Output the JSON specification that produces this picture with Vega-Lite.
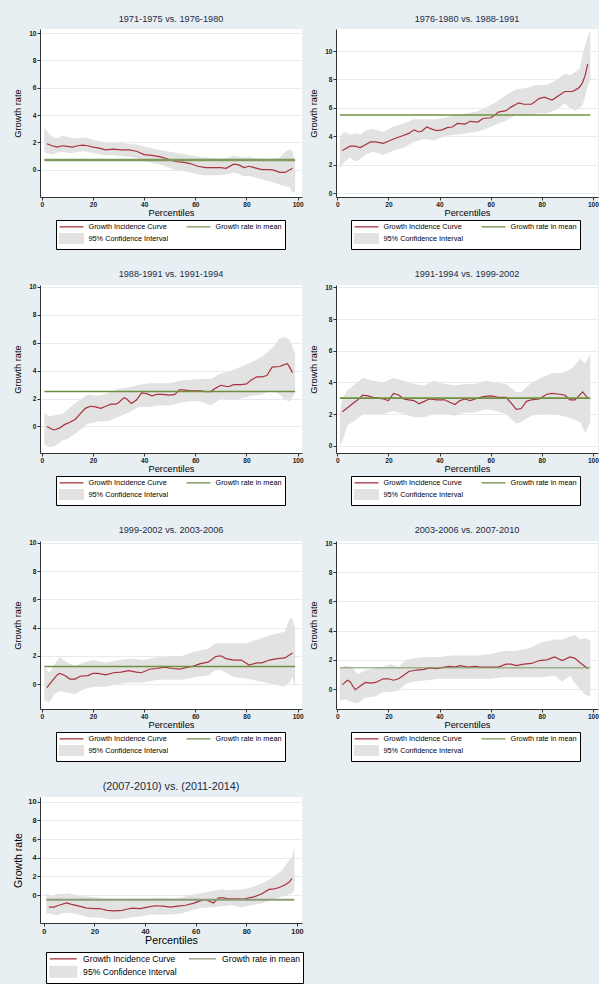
{
  "$schema": "https://vega.github.io/schema/vega-lite/v6.json",
  "background": "#e8eff2",
  "padding": {"left": 13, "top": 14, "right": 0, "bottom": 0},
  "config": {
    "font": "Liberation Sans",
    "view": {"fill": "#ffffff", "stroke": null},
    "title": {"fontSize": 9.2, "fontWeight": "normal", "color": "#1e2a44", "offset": 5, "anchor": "middle"},
    "axis": {"labelFontSize": 6.6, "labelFontWeight": "bold", "labelColor": "#222", "labelOverlap": false, "titleFontSize": 9.3, "titleFontWeight": "normal", "titleColor": "#000", "domainColor": "#333", "tickColor": "#333", "tickSize": 3, "labelPadding": 1, "gridColor": "#e4ecf0", "gridWidth": 1, "tickCount": 12},
    "axisX": {"grid": false, "titlePadding": 1},
    "axisY": {"grid": true, "titlePadding": 6, "labelAngle": 0},
    "legend": {"orient": "none", "direction": "horizontal", "columns": 2, "labelFontSize": 7.3, "labelColor": "#000", "labelLimit": 200, "padding": 2.5, "strokeColor": "#000", "fillColor": "#ffffff", "rowPadding": 0, "labelOffset": 22, "columnPadding": 15, "symbolSize": 36, "symbolStrokeWidth": 1.3}
  },
  "datasets": {
    "gic": [
      {"p":1,"x":2,"g":1.9},{"p":1,"x":4,"g":1.75},{"p":1,"x":6,"g":1.65},{"p":1,"x":8,"g":1.75},{"p":1,"x":10,"g":1.7},{"p":1,"x":12,"g":1.65},{"p":1,"x":14,"g":1.75},{"p":1,"x":16,"g":1.8},{"p":1,"x":18,"g":1.75},{"p":1,"x":20,"g":1.65},{"p":1,"x":22,"g":1.6},{"p":1,"x":25,"g":1.45},{"p":1,"x":28,"g":1.5},{"p":1,"x":31,"g":1.45},{"p":1,"x":34,"g":1.45},{"p":1,"x":37,"g":1.35},{"p":1,"x":40,"g":1.1},{"p":1,"x":43,"g":1.05},{"p":1,"x":46,"g":0.95},{"p":1,"x":49,"g":0.8},{"p":1,"x":52,"g":0.6},{"p":1,"x":55,"g":0.55},{"p":1,"x":58,"g":0.45},{"p":1,"x":61,"g":0.25},{"p":1,"x":64,"g":0.15},{"p":1,"x":67,"g":0.15},{"p":1,"x":70,"g":0.15},{"p":1,"x":72,"g":0.1},{"p":1,"x":75,"g":0.4},{"p":1,"x":77,"g":0.35},{"p":1,"x":79,"g":0.15},{"p":1,"x":81,"g":0.25},{"p":1,"x":83,"g":0.15},{"p":1,"x":86,"g":0.0},{"p":1,"x":89,"g":0.0},{"p":1,"x":91,"g":-0.05},{"p":1,"x":93,"g":-0.2},{"p":1,"x":95,"g":-0.2},{"p":1,"x":97,"g":0.0},{"p":1,"x":98,"g":0.1},
      {"p":2,"x":2,"g":3.0},{"p":2,"x":3,"g":3.1},{"p":2,"x":5,"g":3.3},{"p":2,"x":7,"g":3.3},{"p":2,"x":9,"g":3.2},{"p":2,"x":11,"g":3.4},{"p":2,"x":13,"g":3.6},{"p":2,"x":15,"g":3.6},{"p":2,"x":18,"g":3.5},{"p":2,"x":20,"g":3.65},{"p":2,"x":22,"g":3.8},{"p":2,"x":25,"g":4.0},{"p":2,"x":28,"g":4.2},{"p":2,"x":30,"g":4.45},{"p":2,"x":32,"g":4.3},{"p":2,"x":33,"g":4.35},{"p":2,"x":35,"g":4.65},{"p":2,"x":37,"g":4.5},{"p":2,"x":39,"g":4.4},{"p":2,"x":41,"g":4.45},{"p":2,"x":43,"g":4.6},{"p":2,"x":45,"g":4.65},{"p":2,"x":47,"g":4.9},{"p":2,"x":50,"g":4.85},{"p":2,"x":52,"g":5.05},{"p":2,"x":55,"g":5.0},{"p":2,"x":57,"g":5.25},{"p":2,"x":60,"g":5.3},{"p":2,"x":61,"g":5.4},{"p":2,"x":63,"g":5.7},{"p":2,"x":66,"g":5.8},{"p":2,"x":68,"g":6.05},{"p":2,"x":71,"g":6.35},{"p":2,"x":73,"g":6.25},{"p":2,"x":76,"g":6.25},{"p":2,"x":79,"g":6.65},{"p":2,"x":81,"g":6.75},{"p":2,"x":84,"g":6.55},{"p":2,"x":87,"g":6.9},{"p":2,"x":89,"g":7.15},{"p":2,"x":92,"g":7.15},{"p":2,"x":94,"g":7.35},{"p":2,"x":95,"g":7.5},{"p":2,"x":96,"g":7.8},{"p":2,"x":97,"g":8.3},{"p":2,"x":98,"g":9.1},
      {"p":3,"x":2,"g":0.0},{"p":3,"x":4,"g":-0.2},{"p":3,"x":5,"g":-0.25},{"p":3,"x":7,"g":-0.1},{"p":3,"x":9,"g":0.15},{"p":3,"x":11,"g":0.3},{"p":3,"x":13,"g":0.5},{"p":3,"x":15,"g":0.9},{"p":3,"x":17,"g":1.3},{"p":3,"x":19,"g":1.45},{"p":3,"x":21,"g":1.4},{"p":3,"x":23,"g":1.3},{"p":3,"x":25,"g":1.45},{"p":3,"x":27,"g":1.6},{"p":3,"x":29,"g":1.6},{"p":3,"x":30,"g":1.7},{"p":3,"x":32,"g":2.05},{"p":3,"x":33,"g":2.0},{"p":3,"x":35,"g":1.65},{"p":3,"x":37,"g":1.9},{"p":3,"x":39,"g":2.4},{"p":3,"x":41,"g":2.35},{"p":3,"x":43,"g":2.2},{"p":3,"x":45,"g":2.3},{"p":3,"x":47,"g":2.3},{"p":3,"x":50,"g":2.25},{"p":3,"x":52,"g":2.3},{"p":3,"x":54,"g":2.65},{"p":3,"x":56,"g":2.6},{"p":3,"x":58,"g":2.55},{"p":3,"x":62,"g":2.55},{"p":3,"x":64,"g":2.5},{"p":3,"x":66,"g":2.5},{"p":3,"x":68,"g":2.75},{"p":3,"x":70,"g":2.95},{"p":3,"x":73,"g":2.85},{"p":3,"x":75,"g":3.0},{"p":3,"x":78,"g":3.0},{"p":3,"x":80,"g":3.05},{"p":3,"x":82,"g":3.35},{"p":3,"x":84,"g":3.55},{"p":3,"x":86,"g":3.55},{"p":3,"x":88,"g":3.65},{"p":3,"x":90,"g":4.25},{"p":3,"x":93,"g":4.3},{"p":3,"x":95,"g":4.45},{"p":3,"x":96,"g":4.5},{"p":3,"x":97,"g":4.2},{"p":3,"x":98,"g":3.85},
      {"p":4,"x":2,"g":2.15},{"p":4,"x":4,"g":2.4},{"p":4,"x":6,"g":2.65},{"p":4,"x":8,"g":2.9},{"p":4,"x":10,"g":3.2},{"p":4,"x":12,"g":3.15},{"p":4,"x":14,"g":3.05},{"p":4,"x":16,"g":3.0},{"p":4,"x":18,"g":2.95},{"p":4,"x":20,"g":2.85},{"p":4,"x":22,"g":3.3},{"p":4,"x":24,"g":3.2},{"p":4,"x":26,"g":2.95},{"p":4,"x":28,"g":2.9},{"p":4,"x":30,"g":2.85},{"p":4,"x":32,"g":2.65},{"p":4,"x":34,"g":2.8},{"p":4,"x":36,"g":2.95},{"p":4,"x":39,"g":2.9},{"p":4,"x":42,"g":2.9},{"p":4,"x":44,"g":2.75},{"p":4,"x":46,"g":2.6},{"p":4,"x":48,"g":2.85},{"p":4,"x":50,"g":2.95},{"p":4,"x":52,"g":2.85},{"p":4,"x":54,"g":2.95},{"p":4,"x":57,"g":3.1},{"p":4,"x":60,"g":3.15},{"p":4,"x":63,"g":3.05},{"p":4,"x":66,"g":3.05},{"p":4,"x":68,"g":2.7},{"p":4,"x":70,"g":2.3},{"p":4,"x":72,"g":2.35},{"p":4,"x":74,"g":2.8},{"p":4,"x":76,"g":2.9},{"p":4,"x":79,"g":2.95},{"p":4,"x":82,"g":3.25},{"p":4,"x":84,"g":3.3},{"p":4,"x":87,"g":3.25},{"p":4,"x":89,"g":3.2},{"p":4,"x":91,"g":2.9},{"p":4,"x":93,"g":2.9},{"p":4,"x":96,"g":3.4},{"p":4,"x":98,"g":3.0},
      {"p":5,"x":2,"g":-0.25},{"p":5,"x":4,"g":0.2},{"p":5,"x":6,"g":0.65},{"p":5,"x":7,"g":0.75},{"p":5,"x":9,"g":0.6},{"p":5,"x":11,"g":0.35},{"p":5,"x":13,"g":0.35},{"p":5,"x":15,"g":0.55},{"p":5,"x":18,"g":0.6},{"p":5,"x":20,"g":0.75},{"p":5,"x":22,"g":0.75},{"p":5,"x":25,"g":0.65},{"p":5,"x":28,"g":0.8},{"p":5,"x":31,"g":0.85},{"p":5,"x":34,"g":0.95},{"p":5,"x":37,"g":0.85},{"p":5,"x":39,"g":0.8},{"p":5,"x":42,"g":1.05},{"p":5,"x":45,"g":1.1},{"p":5,"x":48,"g":1.2},{"p":5,"x":51,"g":1.1},{"p":5,"x":54,"g":1.05},{"p":5,"x":57,"g":1.2},{"p":5,"x":59,"g":1.25},{"p":5,"x":62,"g":1.45},{"p":5,"x":65,"g":1.55},{"p":5,"x":68,"g":1.95},{"p":5,"x":70,"g":2.0},{"p":5,"x":72,"g":1.8},{"p":5,"x":75,"g":1.7},{"p":5,"x":78,"g":1.7},{"p":5,"x":81,"g":1.35},{"p":5,"x":84,"g":1.5},{"p":5,"x":86,"g":1.5},{"p":5,"x":89,"g":1.7},{"p":5,"x":92,"g":1.8},{"p":5,"x":95,"g":1.85},{"p":5,"x":98,"g":2.2},
      {"p":6,"x":2,"g":0.3},{"p":6,"x":4,"g":0.6},{"p":6,"x":5,"g":0.5},{"p":6,"x":7,"g":-0.05},{"p":6,"x":9,"g":0.2},{"p":6,"x":11,"g":0.45},{"p":6,"x":13,"g":0.4},{"p":6,"x":15,"g":0.45},{"p":6,"x":18,"g":0.7},{"p":6,"x":20,"g":0.7},{"p":6,"x":22,"g":0.6},{"p":6,"x":24,"g":0.7},{"p":6,"x":26,"g":0.95},{"p":6,"x":28,"g":1.2},{"p":6,"x":31,"g":1.3},{"p":6,"x":34,"g":1.35},{"p":6,"x":36,"g":1.45},{"p":6,"x":39,"g":1.4},{"p":6,"x":42,"g":1.5},{"p":6,"x":44,"g":1.55},{"p":6,"x":46,"g":1.5},{"p":6,"x":48,"g":1.6},{"p":6,"x":51,"g":1.5},{"p":6,"x":54,"g":1.55},{"p":6,"x":56,"g":1.5},{"p":6,"x":60,"g":1.5},{"p":6,"x":63,"g":1.5},{"p":6,"x":66,"g":1.7},{"p":6,"x":68,"g":1.7},{"p":6,"x":70,"g":1.6},{"p":6,"x":73,"g":1.7},{"p":6,"x":76,"g":1.75},{"p":6,"x":79,"g":1.95},{"p":6,"x":82,"g":2.0},{"p":6,"x":85,"g":2.2},{"p":6,"x":88,"g":1.95},{"p":6,"x":91,"g":2.2},{"p":6,"x":93,"g":2.1},{"p":6,"x":95,"g":1.8},{"p":6,"x":98,"g":1.4},
      {"p":7,"x":2,"g":-1.3},{"p":7,"x":4,"g":-1.3},{"p":7,"x":6,"g":-1.1},{"p":7,"x":9,"g":-0.85},{"p":7,"x":11,"g":-1.0},{"p":7,"x":14,"g":-1.2},{"p":7,"x":17,"g":-1.4},{"p":7,"x":20,"g":-1.45},{"p":7,"x":22,"g":-1.45},{"p":7,"x":25,"g":-1.65},{"p":7,"x":28,"g":-1.7},{"p":7,"x":31,"g":-1.65},{"p":7,"x":33,"g":-1.5},{"p":7,"x":35,"g":-1.4},{"p":7,"x":38,"g":-1.45},{"p":7,"x":41,"g":-1.3},{"p":7,"x":44,"g":-1.15},{"p":7,"x":47,"g":-1.2},{"p":7,"x":50,"g":-1.3},{"p":7,"x":53,"g":-1.2},{"p":7,"x":56,"g":-1.1},{"p":7,"x":59,"g":-0.9},{"p":7,"x":62,"g":-0.6},{"p":7,"x":64,"g":-0.5},{"p":7,"x":67,"g":-0.85},{"p":7,"x":69,"g":-0.3},{"p":7,"x":71,"g":-0.3},{"p":7,"x":73,"g":-0.4},{"p":7,"x":76,"g":-0.4},{"p":7,"x":79,"g":-0.45},{"p":7,"x":81,"g":-0.3},{"p":7,"x":83,"g":-0.2},{"p":7,"x":86,"g":0.1},{"p":7,"x":89,"g":0.6},{"p":7,"x":91,"g":0.65},{"p":7,"x":93,"g":0.8},{"p":7,"x":95,"g":1.05},{"p":7,"x":97,"g":1.4},{"p":7,"x":98,"g":1.75}
    ],
    "ci": [
      {"p":1,"x":1,"lo":1.3,"hi":3.1},{"p":1,"x":2,"lo":1.2,"hi":2.8},{"p":1,"x":4,"lo":1.1,"hi":2.4},{"p":1,"x":6,"lo":1.25,"hi":2.3},{"p":1,"x":8,"lo":1.3,"hi":2.5},{"p":1,"x":10,"lo":1.25,"hi":2.4},{"p":1,"x":12,"lo":1.2,"hi":2.3},{"p":1,"x":14,"lo":1.3,"hi":2.3},{"p":1,"x":16,"lo":1.35,"hi":2.35},{"p":1,"x":18,"lo":1.3,"hi":2.3},{"p":1,"x":20,"lo":1.2,"hi":2.2},{"p":1,"x":22,"lo":1.15,"hi":2.1},{"p":1,"x":25,"lo":1.05,"hi":2.0},{"p":1,"x":28,"lo":1.05,"hi":1.95},{"p":1,"x":31,"lo":1.0,"hi":1.95},{"p":1,"x":34,"lo":0.95,"hi":1.9},{"p":1,"x":37,"lo":0.85,"hi":1.85},{"p":1,"x":40,"lo":0.6,"hi":1.7},{"p":1,"x":43,"lo":0.5,"hi":1.55},{"p":1,"x":46,"lo":0.4,"hi":1.45},{"p":1,"x":49,"lo":0.2,"hi":1.35},{"p":1,"x":52,"lo":0.0,"hi":1.25},{"p":1,"x":55,"lo":-0.1,"hi":1.15},{"p":1,"x":58,"lo":-0.2,"hi":1.05},{"p":1,"x":61,"lo":-0.35,"hi":0.95},{"p":1,"x":64,"lo":-0.4,"hi":0.9},{"p":1,"x":67,"lo":-0.4,"hi":0.85},{"p":1,"x":70,"lo":-0.4,"hi":0.8},{"p":1,"x":72,"lo":-0.35,"hi":0.85},{"p":1,"x":75,"lo":-0.2,"hi":1.0},{"p":1,"x":77,"lo":-0.3,"hi":0.95},{"p":1,"x":79,"lo":-0.5,"hi":0.9},{"p":1,"x":81,"lo":-0.45,"hi":0.95},{"p":1,"x":83,"lo":-0.55,"hi":0.85},{"p":1,"x":86,"lo":-0.7,"hi":0.8},{"p":1,"x":89,"lo":-0.85,"hi":0.8},{"p":1,"x":91,"lo":-0.95,"hi":0.85},{"p":1,"x":93,"lo":-1.1,"hi":0.9},{"p":1,"x":95,"lo":-1.2,"hi":1.3},{"p":1,"x":97,"lo":-1.3,"hi":1.5},{"p":1,"x":98,"lo":-1.7,"hi":1.4},{"p":1,"x":99,"lo":-1.6,"hi":0.3},
      {"p":2,"x":1,"lo":1.8,"hi":3.8},{"p":2,"x":2,"lo":2.0,"hi":4.2},{"p":2,"x":3,"lo":2.2,"hi":4.3},{"p":2,"x":5,"lo":2.5,"hi":4.1},{"p":2,"x":7,"lo":2.2,"hi":4.2},{"p":2,"x":9,"lo":2.4,"hi":4.1},{"p":2,"x":11,"lo":2.7,"hi":4.4},{"p":2,"x":14,"lo":2.9,"hi":4.5},{"p":2,"x":18,"lo":2.7,"hi":4.3},{"p":2,"x":22,"lo":3.0,"hi":4.7},{"p":2,"x":26,"lo":3.2,"hi":4.9},{"p":2,"x":30,"lo":3.6,"hi":5.2},{"p":2,"x":34,"lo":3.8,"hi":5.2},{"p":2,"x":38,"lo":3.7,"hi":5.2},{"p":2,"x":42,"lo":4.0,"hi":5.3},{"p":2,"x":46,"lo":4.1,"hi":5.5},{"p":2,"x":50,"lo":4.2,"hi":5.6},{"p":2,"x":54,"lo":4.3,"hi":5.7},{"p":2,"x":58,"lo":4.5,"hi":6.0},{"p":2,"x":62,"lo":4.8,"hi":6.4},{"p":2,"x":66,"lo":5.1,"hi":6.9},{"p":2,"x":70,"lo":5.5,"hi":7.3},{"p":2,"x":74,"lo":5.4,"hi":7.4},{"p":2,"x":78,"lo":5.6,"hi":7.6},{"p":2,"x":82,"lo":5.6,"hi":7.6},{"p":2,"x":86,"lo":5.9,"hi":8.0},{"p":2,"x":89,"lo":6.3,"hi":8.4},{"p":2,"x":91,"lo":6.0,"hi":8.3},{"p":2,"x":93,"lo":5.8,"hi":8.5},{"p":2,"x":95,"lo":6.0,"hi":8.8},{"p":2,"x":96,"lo":6.2,"hi":9.8},{"p":2,"x":97,"lo":6.8,"hi":10.4},{"p":2,"x":98,"lo":7.5,"hi":11.0},{"p":2,"x":99,"lo":8.0,"hi":11.4},
      {"p":3,"x":1,"lo":-1.3,"hi":1.0},{"p":3,"x":3,"lo":-1.5,"hi":0.7},{"p":3,"x":5,"lo":-1.4,"hi":0.8},{"p":3,"x":8,"lo":-1.0,"hi":0.9},{"p":3,"x":10,"lo":-0.9,"hi":1.2},{"p":3,"x":14,"lo":-0.4,"hi":1.8},{"p":3,"x":18,"lo":0.2,"hi":2.3},{"p":3,"x":22,"lo":0.35,"hi":2.2},{"p":3,"x":26,"lo":0.4,"hi":2.4},{"p":3,"x":30,"lo":0.7,"hi":2.7},{"p":3,"x":34,"lo":1.0,"hi":2.8},{"p":3,"x":38,"lo":1.4,"hi":3.0},{"p":3,"x":42,"lo":1.4,"hi":3.1},{"p":3,"x":46,"lo":1.5,"hi":3.1},{"p":3,"x":50,"lo":1.5,"hi":3.1},{"p":3,"x":54,"lo":1.7,"hi":3.3},{"p":3,"x":58,"lo":1.8,"hi":3.35},{"p":3,"x":62,"lo":1.8,"hi":3.4},{"p":3,"x":66,"lo":1.5,"hi":3.4},{"p":3,"x":70,"lo":2.0,"hi":3.8},{"p":3,"x":74,"lo":1.9,"hi":4.0},{"p":3,"x":78,"lo":2.0,"hi":4.3},{"p":3,"x":82,"lo":2.2,"hi":4.6},{"p":3,"x":86,"lo":2.3,"hi":5.0},{"p":3,"x":90,"lo":2.6,"hi":5.6},{"p":3,"x":93,"lo":2.3,"hi":6.3},{"p":3,"x":95,"lo":1.9,"hi":6.4},{"p":3,"x":97,"lo":1.8,"hi":6.2},{"p":3,"x":99,"lo":2.4,"hi":5.2},
      {"p":4,"x":1,"lo":0.0,"hi":2.0},{"p":4,"x":2,"lo":0.3,"hi":3.0},{"p":4,"x":4,"lo":1.3,"hi":3.5},{"p":4,"x":7,"lo":1.6,"hi":3.9},{"p":4,"x":10,"lo":2.0,"hi":4.3},{"p":4,"x":14,"lo":2.0,"hi":4.1},{"p":4,"x":18,"lo":2.0,"hi":4.0},{"p":4,"x":22,"lo":2.2,"hi":4.3},{"p":4,"x":26,"lo":2.0,"hi":4.1},{"p":4,"x":30,"lo":1.8,"hi":3.9},{"p":4,"x":34,"lo":1.8,"hi":3.8},{"p":4,"x":38,"lo":2.0,"hi":4.1},{"p":4,"x":42,"lo":2.0,"hi":3.9},{"p":4,"x":46,"lo":1.9,"hi":3.8},{"p":4,"x":50,"lo":2.1,"hi":3.9},{"p":4,"x":54,"lo":2.1,"hi":3.9},{"p":4,"x":58,"lo":2.3,"hi":4.1},{"p":4,"x":62,"lo":2.2,"hi":4.0},{"p":4,"x":66,"lo":2.0,"hi":3.9},{"p":4,"x":70,"lo":1.4,"hi":3.4},{"p":4,"x":72,"lo":1.5,"hi":3.4},{"p":4,"x":76,"lo":1.9,"hi":4.0},{"p":4,"x":80,"lo":2.0,"hi":4.3},{"p":4,"x":84,"lo":2.0,"hi":4.6},{"p":4,"x":88,"lo":1.9,"hi":4.6},{"p":4,"x":92,"lo":1.7,"hi":4.9},{"p":4,"x":95,"lo":1.5,"hi":5.5},{"p":4,"x":97,"lo":0.8,"hi":5.2},{"p":4,"x":99,"lo":1.5,"hi":5.8},
      {"p":5,"x":1,"lo":-1.2,"hi":1.2},{"p":5,"x":3,"lo":-1.3,"hi":0.8},{"p":5,"x":5,"lo":-0.7,"hi":1.4},{"p":5,"x":7,"lo":-0.5,"hi":1.9},{"p":5,"x":10,"lo":-0.6,"hi":1.5},{"p":5,"x":13,"lo":-0.7,"hi":1.3},{"p":5,"x":16,"lo":-0.4,"hi":1.5},{"p":5,"x":20,"lo":-0.2,"hi":1.7},{"p":5,"x":25,"lo":-0.2,"hi":1.5},{"p":5,"x":30,"lo":0.0,"hi":1.7},{"p":5,"x":35,"lo":0.1,"hi":1.8},{"p":5,"x":40,"lo":0.1,"hi":1.7},{"p":5,"x":45,"lo":0.3,"hi":1.9},{"p":5,"x":50,"lo":0.3,"hi":1.95},{"p":5,"x":55,"lo":0.3,"hi":2.0},{"p":5,"x":60,"lo":0.5,"hi":2.3},{"p":5,"x":65,"lo":0.6,"hi":2.5},{"p":5,"x":68,"lo":1.0,"hi":2.9},{"p":5,"x":70,"lo":1.0,"hi":2.9},{"p":5,"x":75,"lo":0.5,"hi":2.9},{"p":5,"x":80,"lo":0.4,"hi":2.9},{"p":5,"x":85,"lo":0.2,"hi":3.2},{"p":5,"x":90,"lo":0.0,"hi":3.5},{"p":5,"x":95,"lo":-0.2,"hi":3.7},{"p":5,"x":97,"lo":0.2,"hi":4.7},{"p":5,"x":98,"lo":0.5,"hi":4.6},{"p":5,"x":99,"lo":-0.2,"hi":4.0},
      {"p":6,"x":1,"lo":-0.8,"hi":1.4},{"p":6,"x":3,"lo":-0.7,"hi":1.6},{"p":6,"x":6,"lo":-0.9,"hi":1.5},{"p":6,"x":8,"lo":-1.0,"hi":1.0},{"p":6,"x":11,"lo":-0.6,"hi":1.3},{"p":6,"x":15,"lo":-0.5,"hi":1.4},{"p":6,"x":18,"lo":-0.2,"hi":1.5},{"p":6,"x":21,"lo":-0.2,"hi":1.7},{"p":6,"x":24,"lo":-0.1,"hi":1.5},{"p":6,"x":27,"lo":0.4,"hi":2.0},{"p":6,"x":30,"lo":0.5,"hi":2.1},{"p":6,"x":35,"lo":0.6,"hi":2.2},{"p":6,"x":40,"lo":0.7,"hi":2.2},{"p":6,"x":45,"lo":0.7,"hi":2.3},{"p":6,"x":50,"lo":0.7,"hi":2.3},{"p":6,"x":55,"lo":0.7,"hi":2.3},{"p":6,"x":60,"lo":0.7,"hi":2.4},{"p":6,"x":65,"lo":0.8,"hi":2.6},{"p":6,"x":70,"lo":0.8,"hi":2.6},{"p":6,"x":75,"lo":0.8,"hi":2.8},{"p":6,"x":80,"lo":0.8,"hi":3.2},{"p":6,"x":85,"lo":0.9,"hi":3.4},{"p":6,"x":88,"lo":0.5,"hi":3.4},{"p":6,"x":91,"lo":0.9,"hi":3.6},{"p":6,"x":93,"lo":0.4,"hi":3.7},{"p":6,"x":95,"lo":0.0,"hi":3.4},{"p":6,"x":97,"lo":-0.4,"hi":3.5},{"p":6,"x":99,"lo":-0.5,"hi":3.3},
      {"p":7,"x":1,"lo":-2.0,"hi":0.2},{"p":7,"x":3,"lo":-2.0,"hi":-0.2},{"p":7,"x":5,"lo":-2.2,"hi":0.1},{"p":7,"x":8,"lo":-1.9,"hi":0.1},{"p":7,"x":10,"lo":-1.9,"hi":0.2},{"p":7,"x":14,"lo":-2.1,"hi":-0.1},{"p":7,"x":18,"lo":-2.4,"hi":-0.2},{"p":7,"x":22,"lo":-2.4,"hi":-0.3},{"p":7,"x":26,"lo":-2.6,"hi":-0.5},{"p":7,"x":30,"lo":-2.6,"hi":-0.5},{"p":7,"x":34,"lo":-2.4,"hi":-0.4},{"p":7,"x":38,"lo":-2.3,"hi":-0.4},{"p":7,"x":42,"lo":-2.1,"hi":-0.4},{"p":7,"x":46,"lo":-2.1,"hi":-0.3},{"p":7,"x":50,"lo":-2.1,"hi":-0.4},{"p":7,"x":54,"lo":-2.0,"hi":-0.3},{"p":7,"x":58,"lo":-1.7,"hi":0.0},{"p":7,"x":62,"lo":-1.4,"hi":0.2},{"p":7,"x":66,"lo":-1.3,"hi":0.4},{"p":7,"x":70,"lo":-1.2,"hi":0.6},{"p":7,"x":74,"lo":-1.1,"hi":0.5},{"p":7,"x":78,"lo":-1.3,"hi":0.6},{"p":7,"x":82,"lo":-1.1,"hi":0.8},{"p":7,"x":86,"lo":-0.9,"hi":1.2},{"p":7,"x":90,"lo":-0.5,"hi":1.8},{"p":7,"x":94,"lo":-0.2,"hi":2.6},{"p":7,"x":96,"lo":0.0,"hi":3.4},{"p":7,"x":98,"lo":0.2,"hi":4.0},{"p":7,"x":99,"lo":0.5,"hi":5.2}
    ],
    "mean": [
      {"p":1,"x":1,"x2":99,"m":0.7},{"p":2,"x":1,"x2":99,"m":5.5},{"p":3,"x":1,"x2":99,"m":2.5},{"p":4,"x":1,"x2":99,"m":3.0},{"p":5,"x":1,"x2":99,"m":1.25},{"p":6,"x":1,"x2":99,"m":1.45},{"p":7,"x":1,"x2":99,"m":-0.5}
    ]
  },
  "columns": 2,
  "spacing": {"row": 19, "column": 5},
  "resolve": {"scale": {"color": "independent"}, "legend": {"color": "independent"}},
  "concat": [
    {
      "title": "1971-1975 vs. 1976-1980",
      "width": 262, "height": 168,
      "layer": [
        {"data": {"name": "ci"}, "transform": [{"filter": "datum.p == 1"}], "mark": {"type": "area"},
         "encoding": {
           "x": {"field": "x", "type": "quantitative", "title": "Percentiles", "scale": {"domain": [-0.7, 101.7], "nice": false, "zero": false}, "axis": {"values": [0, 20, 40, 60, 80, 100]}},
           "y": {"field": "lo", "type": "quantitative", "title": "Growth rate", "scale": {"domain": [-2.0, 10.3], "nice": false, "zero": false}, "axis": {"values": [0, 2, 4, 6, 8, 10]}},
           "y2": {"field": "hi"},
           "color": {"datum": "95% Confidence Interval", "scale": {"domain": ["Growth Incidence Curve", "Growth rate in mean", "95% Confidence Interval"], "range": ["#a8323e", "#7f9a5c", "#e2e2e2"]},
             "legend": {"legendX": 16, "legendY": 191, "encode": {"symbols": {"update": {
               "shape": {"signal": "datum.value === '95% Confidence Interval' ? 'M-1,-1.6H7V1.6H-1Z' : 'M-1,0H7'"},
               "fill": {"signal": "datum.value === '95% Confidence Interval' ? '#e2e2e2' : 'transparent'"},
               "stroke": {"signal": "datum.value === 'Growth Incidence Curve' ? '#a8323e' : datum.value === 'Growth rate in mean' ? '#7f9a5c' : 'transparent'"},
               "strokeWidth": {"value": 1.3}, "opacity": {"value": 1}}}}}}
         }},
        {"data": {"name": "gic"}, "transform": [{"filter": "datum.p == 1"}], "mark": {"type": "line", "strokeWidth": 1.2},
         "encoding": {"x": {"field": "x", "type": "quantitative"}, "y": {"field": "g", "type": "quantitative"}, "color": {"datum": "Growth Incidence Curve"}}},
        {"data": {"name": "mean"}, "transform": [{"filter": "datum.p == 1"}], "mark": {"type": "rule", "strokeWidth": 2.5},
         "encoding": {"x": {"field": "x", "type": "quantitative"}, "x2": {"field": "x2"}, "y": {"field": "m", "type": "quantitative"}, "color": {"datum": "Growth rate in mean"}}}
      ]
    },
    {
      "title": "1976-1980 vs. 1988-1991",
      "width": 262, "height": 168,
      "layer": [
        {"data": {"name": "ci"}, "transform": [{"filter": "datum.p == 2"}], "mark": {"type": "area"},
         "encoding": {
           "x": {"field": "x", "type": "quantitative", "title": "Percentiles", "scale": {"domain": [-0.5, 102], "nice": false, "zero": false}, "axis": {"values": [0, 20, 40, 60, 80, 100]}},
           "y": {"field": "lo", "type": "quantitative", "title": "Growth rate", "scale": {"domain": [-0.28, 11.55], "nice": false, "zero": false}, "axis": {"values": [0, 2, 4, 6, 8, 10]}},
           "y2": {"field": "hi"},
           "color": {"datum": "95% Confidence Interval", "scale": {"domain": ["Growth Incidence Curve", "Growth rate in mean", "95% Confidence Interval"], "range": ["#a8323e", "#6f9040", "#e2e2e2"]},
             "legend": {"legendX": 15, "legendY": 191, "encode": {"symbols": {"update": {
               "shape": {"signal": "datum.value === '95% Confidence Interval' ? 'M-1,-1.6H7V1.6H-1Z' : 'M-1,0H7'"},
               "fill": {"signal": "datum.value === '95% Confidence Interval' ? '#e2e2e2' : 'transparent'"},
               "stroke": {"signal": "datum.value === 'Growth Incidence Curve' ? '#a8323e' : datum.value === 'Growth rate in mean' ? '#6f9040' : 'transparent'"},
               "strokeWidth": {"value": 1.3}, "opacity": {"value": 1}}}}}}
         }},
        {"data": {"name": "gic"}, "transform": [{"filter": "datum.p == 2"}], "mark": {"type": "line", "strokeWidth": 1.2},
         "encoding": {"x": {"field": "x", "type": "quantitative"}, "y": {"field": "g", "type": "quantitative"}, "color": {"datum": "Growth Incidence Curve"}}},
        {"data": {"name": "mean"}, "transform": [{"filter": "datum.p == 2"}], "mark": {"type": "rule", "strokeWidth": 1.5},
         "encoding": {"x": {"field": "x", "type": "quantitative"}, "x2": {"field": "x2"}, "y": {"field": "m", "type": "quantitative"}, "color": {"datum": "Growth rate in mean"}}}
      ]
    },
    {
      "title": "1988-1991 vs. 1991-1994",
      "width": 262, "height": 168,
      "layer": [
        {"data": {"name": "ci"}, "transform": [{"filter": "datum.p == 3"}], "mark": {"type": "area"},
         "encoding": {
           "x": {"field": "x", "type": "quantitative", "title": "Percentiles", "scale": {"domain": [-0.7, 101.7], "nice": false, "zero": false}, "axis": {"values": [0, 20, 40, 60, 80, 100]}},
           "y": {"field": "lo", "type": "quantitative", "title": "Growth rate", "scale": {"domain": [-1.9, 10.14], "nice": false, "zero": false}, "axis": {"values": [0, 2, 4, 6, 8, 10]}},
           "y2": {"field": "hi"},
           "color": {"datum": "95% Confidence Interval", "scale": {"domain": ["Growth Incidence Curve", "Growth rate in mean", "95% Confidence Interval"], "range": ["#a8323e", "#6f9040", "#e2e2e2"]},
             "legend": {"legendX": 16, "legendY": 191, "encode": {"symbols": {"update": {
               "shape": {"signal": "datum.value === '95% Confidence Interval' ? 'M-1,-1.6H7V1.6H-1Z' : 'M-1,0H7'"},
               "fill": {"signal": "datum.value === '95% Confidence Interval' ? '#e2e2e2' : 'transparent'"},
               "stroke": {"signal": "datum.value === 'Growth Incidence Curve' ? '#a8323e' : datum.value === 'Growth rate in mean' ? '#6f9040' : 'transparent'"},
               "strokeWidth": {"value": 1.3}, "opacity": {"value": 1}}}}}}
         }},
        {"data": {"name": "gic"}, "transform": [{"filter": "datum.p == 3"}], "mark": {"type": "line", "strokeWidth": 1.2},
         "encoding": {"x": {"field": "x", "type": "quantitative"}, "y": {"field": "g", "type": "quantitative"}, "color": {"datum": "Growth Incidence Curve"}}},
        {"data": {"name": "mean"}, "transform": [{"filter": "datum.p == 3"}], "mark": {"type": "rule", "strokeWidth": 1.5},
         "encoding": {"x": {"field": "x", "type": "quantitative"}, "x2": {"field": "x2"}, "y": {"field": "m", "type": "quantitative"}, "color": {"datum": "Growth rate in mean"}}}
      ]
    },
    {
      "title": "1991-1994 vs. 1999-2002",
      "width": 262, "height": 168,
      "layer": [
        {"data": {"name": "ci"}, "transform": [{"filter": "datum.p == 4"}], "mark": {"type": "area"},
         "encoding": {
           "x": {"field": "x", "type": "quantitative", "title": "Percentiles", "scale": {"domain": [-0.5, 102], "nice": false, "zero": false}, "axis": {"values": [0, 20, 40, 60, 80, 100]}},
           "y": {"field": "lo", "type": "quantitative", "title": "Growth rate", "scale": {"domain": [-0.46, 10.15], "nice": false, "zero": false}, "axis": {"values": [0, 2, 4, 6, 8, 10]}},
           "y2": {"field": "hi"},
           "color": {"datum": "95% Confidence Interval", "scale": {"domain": ["Growth Incidence Curve", "Growth rate in mean", "95% Confidence Interval"], "range": ["#a8323e", "#6f9040", "#e2e2e2"]},
             "legend": {"legendX": 15, "legendY": 191, "encode": {"symbols": {"update": {
               "shape": {"signal": "datum.value === '95% Confidence Interval' ? 'M-1,-1.6H7V1.6H-1Z' : 'M-1,0H7'"},
               "fill": {"signal": "datum.value === '95% Confidence Interval' ? '#e2e2e2' : 'transparent'"},
               "stroke": {"signal": "datum.value === 'Growth Incidence Curve' ? '#a8323e' : datum.value === 'Growth rate in mean' ? '#6f9040' : 'transparent'"},
               "strokeWidth": {"value": 1.3}, "opacity": {"value": 1}}}}}}
         }},
        {"data": {"name": "gic"}, "transform": [{"filter": "datum.p == 4"}], "mark": {"type": "line", "strokeWidth": 1.2},
         "encoding": {"x": {"field": "x", "type": "quantitative"}, "y": {"field": "g", "type": "quantitative"}, "color": {"datum": "Growth Incidence Curve"}}},
        {"data": {"name": "mean"}, "transform": [{"filter": "datum.p == 4"}], "mark": {"type": "rule", "strokeWidth": 1.8},
         "encoding": {"x": {"field": "x", "type": "quantitative"}, "x2": {"field": "x2"}, "y": {"field": "m", "type": "quantitative"}, "color": {"datum": "Growth rate in mean"}}}
      ]
    },
    {
      "title": "1999-2002 vs. 2003-2006",
      "width": 262, "height": 168,
      "layer": [
        {"data": {"name": "ci"}, "transform": [{"filter": "datum.p == 5"}], "mark": {"type": "area"},
         "encoding": {
           "x": {"field": "x", "type": "quantitative", "title": "Percentiles", "scale": {"domain": [-0.7, 101.7], "nice": false, "zero": false}, "axis": {"values": [0, 20, 40, 60, 80, 100]}},
           "y": {"field": "lo", "type": "quantitative", "title": "Growth rate", "scale": {"domain": [-1.77, 10.14], "nice": false, "zero": false}, "axis": {"values": [0, 2, 4, 6, 8, 10]}},
           "y2": {"field": "hi"},
           "color": {"datum": "95% Confidence Interval", "scale": {"domain": ["Growth Incidence Curve", "Growth rate in mean", "95% Confidence Interval"], "range": ["#a8323e", "#6f9040", "#e2e2e2"]},
             "legend": {"legendX": 16, "legendY": 191, "encode": {"symbols": {"update": {
               "shape": {"signal": "datum.value === '95% Confidence Interval' ? 'M-1,-1.6H7V1.6H-1Z' : 'M-1,0H7'"},
               "fill": {"signal": "datum.value === '95% Confidence Interval' ? '#e2e2e2' : 'transparent'"},
               "stroke": {"signal": "datum.value === 'Growth Incidence Curve' ? '#a8323e' : datum.value === 'Growth rate in mean' ? '#6f9040' : 'transparent'"},
               "strokeWidth": {"value": 1.3}, "opacity": {"value": 1}}}}}}
         }},
        {"data": {"name": "gic"}, "transform": [{"filter": "datum.p == 5"}], "mark": {"type": "line", "strokeWidth": 1.2},
         "encoding": {"x": {"field": "x", "type": "quantitative"}, "y": {"field": "g", "type": "quantitative"}, "color": {"datum": "Growth Incidence Curve"}}},
        {"data": {"name": "mean"}, "transform": [{"filter": "datum.p == 5"}], "mark": {"type": "rule", "strokeWidth": 1.5},
         "encoding": {"x": {"field": "x", "type": "quantitative"}, "x2": {"field": "x2"}, "y": {"field": "m", "type": "quantitative"}, "color": {"datum": "Growth rate in mean"}}}
      ]
    },
    {
      "title": "2003-2006 vs. 2007-2010",
      "width": 262, "height": 168,
      "layer": [
        {"data": {"name": "ci"}, "transform": [{"filter": "datum.p == 6"}], "mark": {"type": "area"},
         "encoding": {
           "x": {"field": "x", "type": "quantitative", "title": "Percentiles", "scale": {"domain": [-0.5, 102], "nice": false, "zero": false}, "axis": {"values": [0, 20, 40, 60, 80, 100]}},
           "y": {"field": "lo", "type": "quantitative", "title": "Growth rate", "scale": {"domain": [-1.37, 10.14], "nice": false, "zero": false}, "axis": {"values": [0, 2, 4, 6, 8, 10]}},
           "y2": {"field": "hi"},
           "color": {"datum": "95% Confidence Interval", "scale": {"domain": ["Growth Incidence Curve", "Growth rate in mean", "95% Confidence Interval"], "range": ["#a8323e", "#7c9a5e", "#e2e2e2"]},
             "legend": {"legendX": 15, "legendY": 191, "encode": {"symbols": {"update": {
               "shape": {"signal": "datum.value === '95% Confidence Interval' ? 'M-1,-1.6H7V1.6H-1Z' : 'M-1,0H7'"},
               "fill": {"signal": "datum.value === '95% Confidence Interval' ? '#e2e2e2' : 'transparent'"},
               "stroke": {"signal": "datum.value === 'Growth Incidence Curve' ? '#a8323e' : datum.value === 'Growth rate in mean' ? '#7c9a5e' : 'transparent'"},
               "strokeWidth": {"value": 1.3}, "opacity": {"value": 1}}}}}}
         }},
        {"data": {"name": "gic"}, "transform": [{"filter": "datum.p == 6"}], "mark": {"type": "line", "strokeWidth": 1.2},
         "encoding": {"x": {"field": "x", "type": "quantitative"}, "y": {"field": "g", "type": "quantitative"}, "color": {"datum": "Growth Incidence Curve"}}},
        {"data": {"name": "mean"}, "transform": [{"filter": "datum.p == 6"}], "mark": {"type": "rule", "strokeWidth": 1},
         "encoding": {"x": {"field": "x", "type": "quantitative"}, "x2": {"field": "x2"}, "y": {"field": "m", "type": "quantitative"}, "color": {"datum": "Growth rate in mean"}}}
      ]
    },
    {
      "title": {"text": "(2007-2010) vs. (2011-2014)", "fontSize": 10.8},
      "width": 262, "height": 126,
      "layer": [
        {"data": {"name": "ci"}, "transform": [{"filter": "datum.p == 7"}], "mark": {"type": "area"},
         "encoding": {
           "x": {"field": "x", "type": "quantitative", "title": "Percentiles", "scale": {"domain": [-1.5, 102], "nice": false, "zero": false}, "axis": {"values": [0, 20, 40, 60, 80, 100], "labelFontSize": 7.4, "titleFontSize": 10.7}},
           "y": {"field": "lo", "type": "quantitative", "title": "Growth rate", "scale": {"domain": [-3.0, 10.5], "nice": false, "zero": false}, "axis": {"values": [0, 2, 4, 6, 8, 10], "labelFontSize": 7.4, "titleFontSize": 10.5, "titlePadding": 4}},
           "y2": {"field": "hi"},
           "color": {"datum": "95% Confidence Interval", "scale": {"domain": ["Growth Incidence Curve", "Growth rate in mean", "95% Confidence Interval"], "range": ["#a8323e", "#8c9c78", "#e2e2e2"]},
             "legend": {"legendX": 6, "legendY": 155, "labelFontSize": 8.6, "columnPadding": 8, "labelOffset": 26, "encode": {"symbols": {"update": {
               "shape": {"signal": "datum.value === '95% Confidence Interval' ? 'M-1,-1.8H8V1.8H-1Z' : 'M-1,0H8'"},
               "fill": {"signal": "datum.value === '95% Confidence Interval' ? '#e2e2e2' : 'transparent'"},
               "stroke": {"signal": "datum.value === 'Growth Incidence Curve' ? '#a8323e' : datum.value === 'Growth rate in mean' ? '#8c9c78' : 'transparent'"},
               "strokeWidth": {"value": 1.3}, "opacity": {"value": 1}}}}}}
         }},
        {"data": {"name": "gic"}, "transform": [{"filter": "datum.p == 7"}], "mark": {"type": "line", "strokeWidth": 1.2},
         "encoding": {"x": {"field": "x", "type": "quantitative"}, "y": {"field": "g", "type": "quantitative"}, "color": {"datum": "Growth Incidence Curve"}}},
        {"data": {"name": "mean"}, "transform": [{"filter": "datum.p == 7"}], "mark": {"type": "rule", "strokeWidth": 2},
         "encoding": {"x": {"field": "x", "type": "quantitative"}, "x2": {"field": "x2"}, "y": {"field": "m", "type": "quantitative"}, "color": {"datum": "Growth rate in mean"}}}
      ]
    }
  ]
}
